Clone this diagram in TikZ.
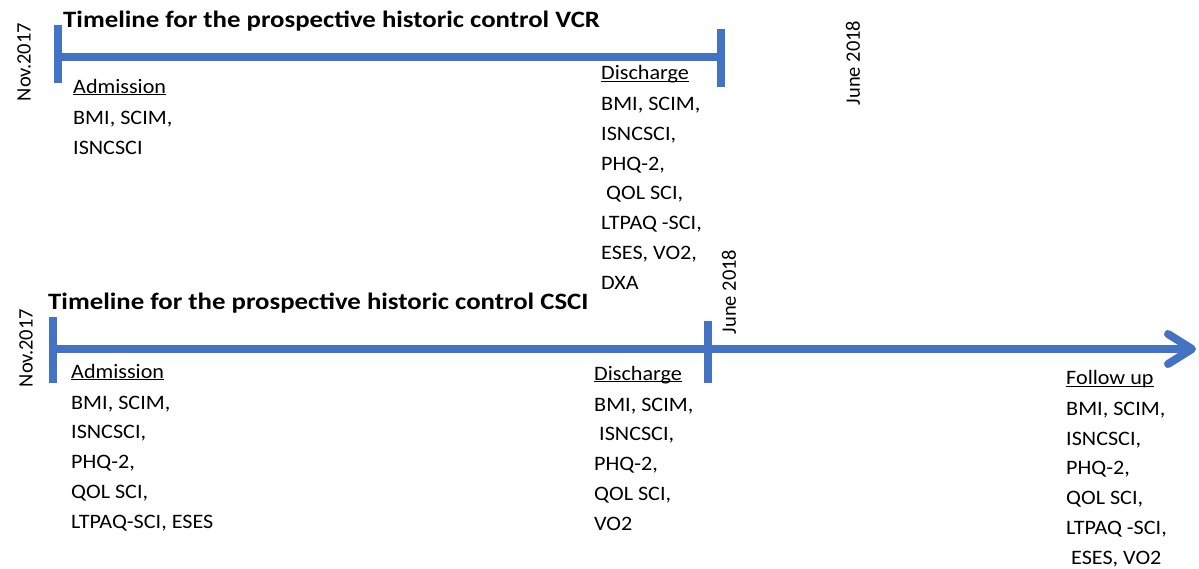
\documentclass[tikz,border=0pt]{standalone}
\usepackage{fontspec}
\usepackage{graphicx}
\setmainfont{Carlito}
\usetikzlibrary{arrows.meta}
\definecolor{lineblue}{HTML}{4472C4}
\newcommand{\headul}[1]{\underline{\smash{#1}}}
\newcommand{\wide}[1]{\scalebox{1.14}[1]{#1}}
\newcommand{\measurelist}[1]{\scalebox{1.08}[1]{\begin{tabular}[b]{@{}l@{}}#1\end{tabular}}}
\begin{document}
\begin{tikzpicture}[x=1pt,y=1pt]
\tikzstyle{every node}+=[inner sep=0pt]
\tikzstyle{axis}=[draw=lineblue,line width=8pt]
\tikzstyle{heading}=[font=\fontsize{23.5}{28}\selectfont\bfseries,anchor=base west]
\tikzstyle{datelabel}=[font=\fontsize{20.5}{24}\selectfont,rotate=90]
\tikzstyle{measures}=[font=\fontsize{20.5}{29.7}\selectfont,anchor=base west]
\useasboundingbox (0,0) rectangle (1199,-568);

% timeline VCR
\node[heading] (vcrtitle) at (63,-27) {\wide{Timeline for the prospective historic control VCR}};
\coordinate (vcrstart) at (58,-57);
\coordinate (vcrend) at (721,-57);
\draw[axis] (vcrstart) -- (vcrend);
\draw[axis] ([yshift=32]vcrstart) -- ([yshift=-26]vcrstart);
\draw[axis] ([yshift=28]vcrend) -- ([yshift=-30]vcrend);
\node[datelabel] (vcrnov) at (24,-62) {Nov.2017};
\node[datelabel] (vcrjune) at (853,-63) {June 2018};
\node[measures] (vcradm) at (73,-154) {\measurelist{\headul{Admission}\\[1.5pt]
BMI, SCIM,\\ISNCSCI}};
\node[measures] (vcrdis) at (601,-289) {\measurelist{\headul{Discharge}\\[1.5pt]
BMI, SCIM,\\ISNCSCI,\\PHQ-2,\\\ QOL SCI,\\LTPAQ -SCI,\\ESES, VO2,\\DXA}};

% timeline CSCI
\node[heading] (cscititle) at (48,-309) {\wide{Timeline for the prospective historic control CSCI}};
\coordinate (cscistart) at (53,-349);
\coordinate (cscidis) at (708,-349);
\coordinate (csciend) at (1196,-349);
\draw[axis,-{Straight Barb[round,length=24pt,width=30pt]}] (cscistart) -- (csciend);
\draw[axis] ([yshift=32]cscistart) -- ([yshift=-34]cscistart);
\draw[axis] ([yshift=28]cscidis) -- ([yshift=-34]cscidis);
\node[datelabel] (cscinov) at (26,-348) {Nov.2017};
\node[datelabel] (cscijune) at (729,-292) {June 2018};
\node[measures] (csciadm) at (71,-528) {\measurelist{\headul{Admission}\\[1.5pt]
BMI, SCIM,\\ISNCSCI,\\PHQ-2,\\QOL SCI,\\LTPAQ-SCI, ESES}};
\node[measures] (cscidisch) at (594,-530) {\measurelist{\headul{Discharge}\\[1.5pt]
BMI, SCIM,\\\ ISNCSCI,\\PHQ-2,\\QOL SCI,\\VO2}};
\node[measures] (csciflw) at (1066,-564) {\measurelist{\headul{Follow up}\\[1.5pt]
BMI, SCIM,\\ISNCSCI,\\PHQ-2,\\QOL SCI,\\LTPAQ -SCI,\\\ ESES, VO2}};
\end{tikzpicture}
\end{document}
